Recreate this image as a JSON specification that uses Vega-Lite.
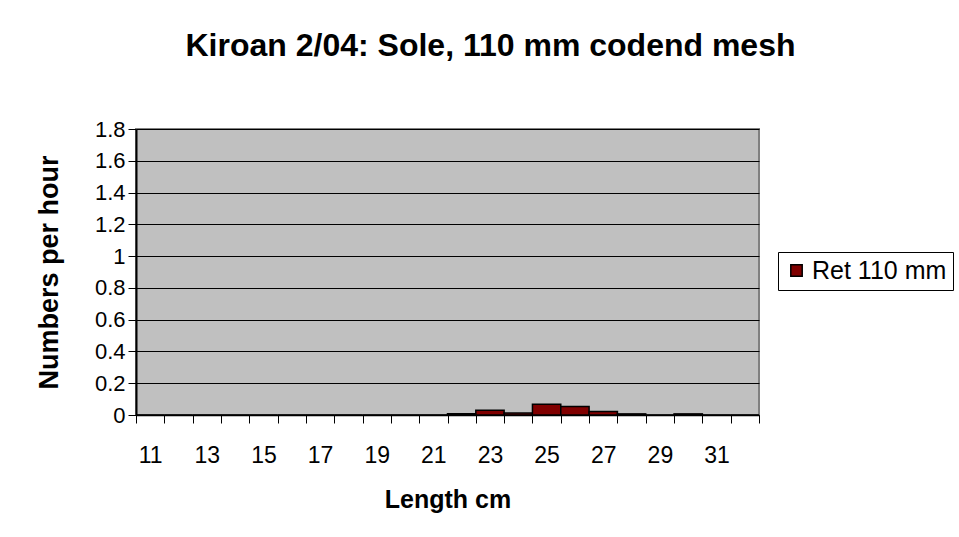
{
  "$schema": "https://vega.github.io/schema/vega-lite/v6.json",
  "width": 623,
  "height": 286,
  "autosize": "none",
  "padding": {"left": 136, "top": 129, "right": 200, "bottom": 122},
  "background": "white",
  "title": {
    "text": "Kiroan 2/04: Sole, 110 mm codend mesh",
    "font": "Liberation Sans",
    "fontSize": 32,
    "fontWeight": "bold",
    "color": "black",
    "anchor": "middle",
    "dx": 43,
    "offset": 55
  },
  "config": {
    "font": "Liberation Sans",
    "view": {"fill": "#C0C0C0", "stroke": "#808080", "strokeWidth": 2}
  },
  "data": {
    "values": [
      {"length": 11, "value": 0, "series": "Ret 110 mm"},
      {"length": 12, "value": 0, "series": "Ret 110 mm"},
      {"length": 13, "value": 0, "series": "Ret 110 mm"},
      {"length": 14, "value": 0, "series": "Ret 110 mm"},
      {"length": 15, "value": 0, "series": "Ret 110 mm"},
      {"length": 16, "value": 0, "series": "Ret 110 mm"},
      {"length": 17, "value": 0, "series": "Ret 110 mm"},
      {"length": 18, "value": 0, "series": "Ret 110 mm"},
      {"length": 19, "value": 0, "series": "Ret 110 mm"},
      {"length": 20, "value": 0, "series": "Ret 110 mm"},
      {"length": 21, "value": 0, "series": "Ret 110 mm"},
      {"length": 22, "value": 0.008, "series": "Ret 110 mm"},
      {"length": 23, "value": 0.03, "series": "Ret 110 mm"},
      {"length": 24, "value": 0.012, "series": "Ret 110 mm"},
      {"length": 25, "value": 0.068, "series": "Ret 110 mm"},
      {"length": 26, "value": 0.053, "series": "Ret 110 mm"},
      {"length": 27, "value": 0.022, "series": "Ret 110 mm"},
      {"length": 28, "value": 0.007, "series": "Ret 110 mm"},
      {"length": 29, "value": 0, "series": "Ret 110 mm"},
      {"length": 30, "value": 0.007, "series": "Ret 110 mm"},
      {"length": 31, "value": 0, "series": "Ret 110 mm"},
      {"length": 32, "value": 0, "series": "Ret 110 mm"}
    ]
  },
  "mark": {"type": "bar", "stroke": "black", "strokeWidth": 1.5},
  "encoding": {
    "x": {
      "field": "length",
      "type": "ordinal",
      "scale": {"paddingInner": 0, "paddingOuter": 0},
      "axis": {
        "title": "Length cm",
        "titleFontSize": 25,
        "titleFontWeight": "bold",
        "titleColor": "black",
        "titlePadding": 20,
        "labelAngle": 0,
        "labelFontSize": 23,
        "labelColor": "black",
        "labelPadding": 21,
        "labelExpr": "datum.value % 2 == 1 ? datum.label : ''",
        "tickBand": "extent",
        "tickSize": 8,
        "tickColor": "black",
        "domainColor": "black",
        "domainWidth": 1.5,
        "grid": false
      }
    },
    "y": {
      "field": "value",
      "type": "quantitative",
      "scale": {"domain": [0, 1.8]},
      "axis": {
        "title": "Numbers per hour",
        "titleFontSize": 27,
        "titleFontWeight": "bold",
        "titleColor": "black",
        "titlePadding": 31,
        "values": [0, 0.2, 0.4, 0.6, 0.8, 1, 1.2, 1.4, 1.6, 1.8],
        "labelExpr": "datum.value == 0 ? '0' : format(datum.value, '.1~f')",
        "labelFontSize": 22,
        "labelColor": "black",
        "labelPadding": 3,
        "tickSize": 8,
        "tickColor": "black",
        "domainColor": "black",
        "domainWidth": 2,
        "grid": true,
        "gridColor": "black",
        "gridWidth": 1,
        "gridOpacity": 1
      }
    },
    "color": {
      "field": "series",
      "type": "nominal",
      "scale": {"range": ["#800000"]},
      "legend": {
        "title": null,
        "orient": "none",
        "legendX": 642,
        "legendY": 123,
        "strokeColor": "black",
        "fillColor": "white",
        "padding": 6,
        "symbolType": "square",
        "symbolSize": 130,
        "symbolStrokeColor": "black",
        "symbolStrokeWidth": 1.5,
        "symbolOpacity": 1,
        "labelFontSize": 25,
        "labelColor": "black",
        "labelOffset": 3
      }
    }
  }
}
